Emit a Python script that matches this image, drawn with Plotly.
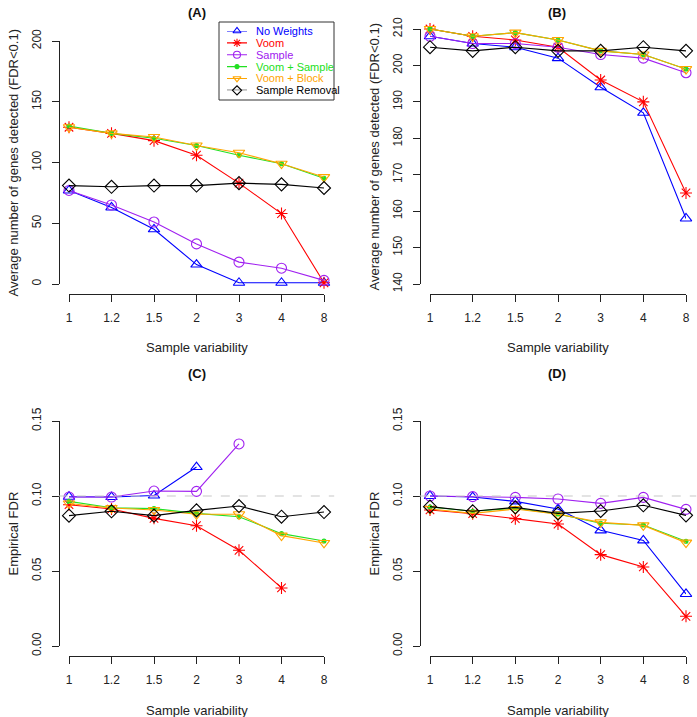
import plotly.graph_objects as go

W, H = 697, 717

variability = ["1", "1.2", "1.5", "2", "3", "4", "8"]
methods = ["No Weights", "Voom", "Sample", "Voom + Sample", "Voom + Block", "Sample Removal"]

# (A) average number of genes detected, first simulation
genes_a = {
    "No Weights": [77, 63, 45, 16, 1, 1, 1],
    "Voom": [129, 124, 118, 106, 83, 58, 1],
    "Sample": [77, 65, 51, 33, 18, 13, 3],
    "Voom + Sample": [130, 124, 120, 114, 106, 99, 87],
    "Voom + Block": [129, 124, 121, 114, 108, 99, 88],
    "Sample Removal": [81, 80, 81, 81, 83, 82, 79],
}
# (B) average number of genes detected, second simulation
genes_b = {
    "No Weights": [208, 206, 205, 202, 194, 187, 158],
    "Voom": [210, 208, 207, 205, 196, 190, 165],
    "Sample": [208, 206, 206, 205, 203, 202, 198],
    "Voom + Sample": [210, 208, 209, 207, 204, 203, 199],
    "Voom + Block": [210, 208, 209, 207, 204, 203, 199],
    "Sample Removal": [205, 204, 205, 204, 204, 205, 204],
}
# (C) empirical FDR, first simulation
fdr_c = {
    "No Weights": [0.0995, 0.0993, 0.1003, 0.1193, None, None, None],
    "Voom": [0.0942, 0.0913, 0.0851, 0.0802, 0.0638, 0.0387, None],
    "Sample": [0.0993, 0.0993, 0.1033, 0.1031, 0.1347, None, None],
    "Voom + Sample": [0.0964, 0.0922, 0.0916, 0.0884, 0.0862, 0.0749, 0.0700],
    "Voom + Block": [0.0950, 0.0920, 0.0907, 0.0878, 0.0878, 0.0736, 0.0687],
    "Sample Removal": [0.0869, 0.0898, 0.0869, 0.0904, 0.0933, 0.0862, 0.0893],
}
# (D) empirical FDR, second simulation
fdr_d = {
    "No Weights": [0.1000, 0.0993, 0.0964, 0.0913, 0.0771, 0.0704, 0.0347],
    "Voom": [0.0907, 0.0882, 0.0849, 0.0813, 0.0609, 0.0527, 0.0198],
    "Sample": [0.1000, 0.0996, 0.0991, 0.0980, 0.0951, 0.0991, 0.0911],
    "Voom + Sample": [0.0927, 0.0898, 0.0918, 0.0880, 0.0818, 0.0807, 0.0698],
    "Voom + Block": [0.0913, 0.0884, 0.0913, 0.0878, 0.0824, 0.0804, 0.0689],
    "Sample Removal": [0.0929, 0.0898, 0.0924, 0.0884, 0.0900, 0.0938, 0.0871],
}

genes_ticks_a = [0, 50, 100, 150, 200]
genes_ticks_b = [140, 150, 160, 170, 180, 190, 200, 210]
fdr_ticks = [0.0, 0.05, 0.10, 0.15]
fdr_target = 0.1

styles = {
    "No Weights": dict(color="#0000FF", symbol="triangle-up-open", size=10),
    "Voom": dict(color="#FF0000", symbol="asterisk-open", size=10),
    "Sample": dict(color="#A020F0", symbol="circle-open", size=10),
    "Voom + Sample": dict(color="#22E022", symbol="circle", size=4),
    "Voom + Block": dict(color="#FFA500", symbol="triangle-down-open", size=10),
    "Sample Removal": dict(color="#000000", symbol="diamond-open", size=10),
}

FONT = "Liberation Sans, Arial, sans-serif"
xpos = list(range(len(variability)))


def px_x(p):
    return p / W


def px_y(p):
    return 1 - p / H


# panel geometry in pixels: x of first/last category, y of lowest/highest tick,
# y of x-axis line, x of y-axis line
panels = [
    dict(data=genes_a, ticks=genes_ticks_a, x0=69, x1=324, ylo=284, yhi=41, xline=294, yline=59,
         title="(A)", tx=197, ty=12, ytitle="Average number of genes detected (FDR<0.1)", fmt=None),
    dict(data=genes_b, ticks=genes_ticks_b, x0=430, x1=686, ylo=284, yhi=29, xline=294, yline=420,
         title="(B)", tx=557, ty=12, ytitle="Average number of genes detected (FDR<0.1)", fmt=None),
    dict(data=fdr_c, ticks=fdr_ticks, x0=69, x1=324, ylo=646, yhi=421, xline=656, yline=59,
         title="(C)", tx=197, ty=373, ytitle="Empirical FDR", fmt=".2f"),
    dict(data=fdr_d, ticks=fdr_ticks, x0=430, x1=686, ylo=646, yhi=421, xline=656, yline=420,
         title="(D)", tx=557, ty=373, ytitle="Empirical FDR", fmt=".2f"),
]

fig = go.Figure()
annotations = []
shapes = []
axis_font = dict(family=FONT, size=12, color="#222222")


def note(text, x, y, size=13, angle=0, yref="paper", xanchor="center", color="#222222"):
    return dict(text=text, x=x, y=y, xref="paper", yref=yref, showarrow=False,
                xanchor=xanchor, yanchor="middle", textangle=angle,
                font=dict(family=FONT, size=size, color=color))


for i, p in enumerate(panels, start=1):
    xa = "x" if i == 1 else f"x{i}"
    ya = "y" if i == 1 else f"y{i}"
    for m in methods:
        st = styles[m]
        fig.add_trace(go.Scatter(
            x=xpos, y=p["data"][m], xaxis=xa, yaxis=ya, mode="lines+markers",
            line=dict(color=st["color"], width=1.1),
            marker=dict(symbol=st["symbol"], size=st["size"], color=st["color"],
                        line=dict(color=st["color"], width=1.1)),
            cliponaxis=False, showlegend=False, connectgaps=False,
        ))
    xkey = "xaxis" if i == 1 else f"xaxis{i}"
    ykey = "yaxis" if i == 1 else f"yaxis{i}"
    fig.update_layout(**{
        xkey: dict(domain=[px_x(p["x0"]), px_x(p["x1"])], range=[0, len(variability) - 1],
                   anchor="free", position=px_y(p["xline"]), automargin=False,
                   tickmode="array", tickvals=xpos, ticktext=variability,
                   showline=True, linecolor="#222222", linewidth=1, ticks="outside", ticklen=7,
                   tickcolor="#222222", showgrid=False, zeroline=False, tickfont=axis_font,
                   ticklabelstandoff=6),
        ykey: dict(domain=[px_y(p["ylo"]), px_y(p["yhi"])], range=[p["ticks"][0], p["ticks"][-1]],
                   anchor="free", position=px_x(p["yline"]), automargin=False,
                   tickmode="array", tickvals=p["ticks"], tickformat=p["fmt"], tickangle=-90,
                   showline=True, linecolor="#222222", linewidth=1, ticks="outside", ticklen=7,
                   tickcolor="#222222", showgrid=False, zeroline=False, tickfont=axis_font,
                   ticklabelstandoff=6),
    })
    annotations.append(note("<b>" + p["title"] + "</b>", px_x(p["tx"]), px_y(p["ty"]),
                            color="#111111"))
    annotations.append(note("Sample variability", px_x((p["x0"] + p["x1"]) / 2),
                            px_y(p["xline"] + 54)))
    annotations.append(note(p["ytitle"], px_x(p["yline"] - 46),
                            px_y((p["ylo"] + p["yhi"]) / 2), angle=-90))
    if p["fmt"]:
        shapes.append(dict(type="line", xref=f"{xa} domain", yref=ya, x0=-0.04, x1=1.04,
                           y0=fdr_target, y1=fdr_target,
                           line=dict(color="#C8C8C8", width=1.2, dash="dash")))

# legend drawn by hand so rows can be as tight as in the original
rows = list(range(len(methods)))
for r, m in zip(rows, methods):
    st = styles[m]
    fig.add_trace(go.Scatter(x=[0, 1], y=[r, r], xaxis="x5", yaxis="y5", mode="lines",
                             line=dict(color=st["color"], width=1.1), showlegend=False,
                             hoverinfo="skip"))
    fig.add_trace(go.Scatter(x=[0.5], y=[r], xaxis="x5", yaxis="y5", mode="markers",
                             marker=dict(symbol=st["symbol"], size=max(st["size"] * 0.7, 4),
                                         color=st["color"],
                                         line=dict(color=st["color"], width=1.1)),
                             cliponaxis=False, showlegend=False, hoverinfo="skip"))
    annotations.append(note(m, px_x(254), r, size=11, yref="y5", xanchor="left",
                            color=st["color"]))

fig.update_layout(
    xaxis5=dict(domain=[px_x(227), px_x(247)], range=[0, 1], visible=False, anchor="y5"),
    yaxis5=dict(domain=[px_y(90.3), px_y(31)], range=[len(methods) - 1, 0], visible=False,
                anchor="x5"),
)
shapes.append(dict(type="rect", xref="paper", yref="paper", x0=px_x(219), x1=px_x(334),
                   y0=px_y(100), y1=px_y(22), line=dict(color="#333333", width=1)))

fig.update_layout(
    width=W, height=H,
    margin=dict(l=0, r=0, t=0, b=0),
    paper_bgcolor="white", plot_bgcolor="white",
    annotations=annotations, shapes=shapes,
    showlegend=False,
    font=dict(family=FONT),
)

# drop the page's default body margin so the figure fills the window
fig.write_html("out.html", config={"displayModeBar": False},
               post_script="document.body.style.margin='0';")
